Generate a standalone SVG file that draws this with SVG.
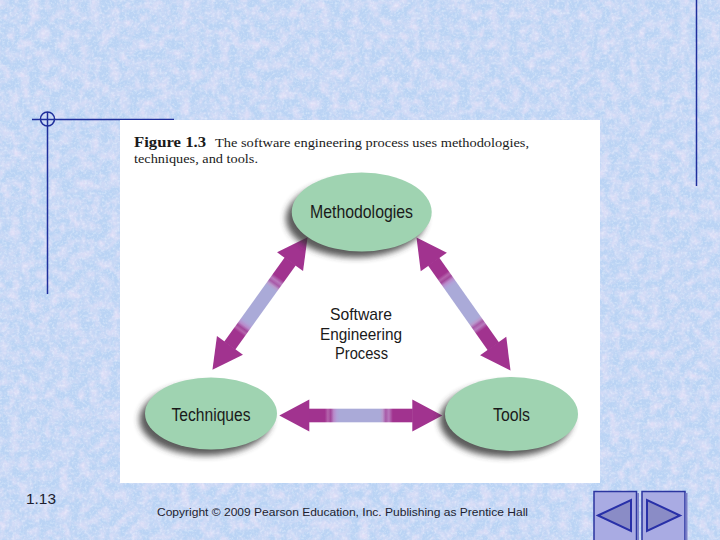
<svg xmlns="http://www.w3.org/2000/svg" width="720" height="540" viewBox="0 0 720 540">
<style>
.node{fill:#9fd3b1}
.lbl{font-family:"Liberation Sans",Arial,sans-serif;fill:#1a1a1a;text-anchor:start}
.cap{font-family:"Liberation Serif","Times New Roman",serif;fill:#1a1a1a}
.rule{stroke:#1f2f9c;stroke-width:1.5;fill:none}
.btn{fill:#a9abe3;stroke:#2b35a0;stroke-width:1.5}
.tri{fill:#8a8cc6;stroke:#2830a8;stroke-width:2;stroke-linejoin:miter}
.foot{font-family:"Liberation Sans",Arial,sans-serif;fill:#1e1e30}
.head{fill:#a1338f}
.shadow{fill:#333333;opacity:0.8}
</style>
<defs>
<filter id="tex" x="0" y="0" width="100%" height="100%">
<feTurbulence type="fractalNoise" baseFrequency="0.1" numOctaves="3" seed="4"/>
<feColorMatrix type="matrix" values="0 0 0 0 0.88  0 0 0 0 0.78  0 0 0 0 0.94  1.4 0 0 0 -0.5"/>
</filter>
<filter id="tex2" x="0" y="0" width="100%" height="100%">
<feTurbulence type="fractalNoise" baseFrequency="0.4" numOctaves="2" seed="9"/>
<feColorMatrix type="matrix" values="0 0 0 0 0.85  0 0 0 0 0.92  0 0 0 0 1  0 1.2 0 0 -0.55"/>
</filter>
<filter id="sh" x="-30%" y="-30%" width="160%" height="160%">
<feGaussianBlur stdDeviation="3"/>
</filter>
<linearGradient id="shaft" gradientUnits="userSpaceOnUse" x1="-52" y1="0" x2="52" y2="0">
<stop offset="0" stop-color="#a1338f"/>
<stop offset="0.154" stop-color="#a1338f"/>
<stop offset="0.183" stop-color="#b464ac"/>
<stop offset="0.21" stop-color="#a2489a"/>
<stop offset="0.24" stop-color="#b98aca"/>
<stop offset="0.27" stop-color="#b0a2d8"/>
<stop offset="0.298" stop-color="#aaaad8"/>
<stop offset="0.683" stop-color="#aaaad8"/>
<stop offset="0.71" stop-color="#b99acd"/>
<stop offset="0.74" stop-color="#a85aa8"/>
<stop offset="0.77" stop-color="#b87abd"/>
<stop offset="0.808" stop-color="#a1338f"/>
<stop offset="1" stop-color="#a1338f"/>
</linearGradient>
<g id="arrow">
<rect x="-52" y="-6.8" width="104" height="13.6" fill="url(#shaft)"/>
<polygon class="head" points="-81.5,0 -51.5,-16 -51.5,16"/>
<polygon class="head" points="81.5,0 51.5,-16 51.5,16"/>
</g>
</defs>

<!-- background -->
<rect width="720" height="540" fill="#bad3f4"/>
<rect width="720" height="540" filter="url(#tex)"/>
<rect width="720" height="540" filter="url(#tex2)"/>

<!-- slide rules -->
<line class="rule" x1="32" y1="119.5" x2="174" y2="119.5"/>
<line class="rule" x1="47.5" y1="112" x2="47.5" y2="294"/>
<circle class="rule" cx="47.5" cy="119" r="7"/>
<line class="rule" x1="696.5" y1="0" x2="696.5" y2="186"/>

<!-- figure panel -->
<rect x="120" y="120" width="480" height="363" fill="#ffffff"/>
<text class="cap" x="134" y="147" font-size="15" font-weight="bold" textLength="72" lengthAdjust="spacingAndGlyphs">Figure 1.3</text>
<text class="cap" x="215" y="147" font-size="13.5" textLength="314" lengthAdjust="spacingAndGlyphs">The software engineering process uses methodologies,</text>
<text class="cap" x="134" y="163" font-size="13.5" textLength="124" lengthAdjust="spacingAndGlyphs">techniques, and tools.</text>

<!-- connectors -->
<g id="connectors">
<use href="#arrow" transform="translate(360.8,415.5)"/>
<use href="#arrow" transform="translate(260,303.5) rotate(-54.3)"/>
<use href="#arrow" transform="translate(463.5,304) rotate(54.8)"/>
</g>

<!-- nodes -->
<g id="methodologies">
<ellipse class="shadow" cx="356" cy="218.5" rx="70" ry="39" filter="url(#sh)"/>
<ellipse class="node" cx="361.7" cy="212" rx="70" ry="39.5"/>
<text class="lbl" x="310" y="217.5" font-size="18.5" textLength="103" lengthAdjust="spacingAndGlyphs">Methodologies</text>
</g>
<g id="techniques">
<ellipse class="shadow" cx="205.5" cy="419.5" rx="66" ry="36" filter="url(#sh)"/>
<ellipse class="node" cx="211" cy="413.5" rx="66" ry="36"/>
<text class="lbl" x="171.5" y="421" font-size="18" textLength="79" lengthAdjust="spacingAndGlyphs">Techniques</text>
</g>
<g id="tools">
<ellipse class="shadow" cx="506" cy="420" rx="66.5" ry="37" filter="url(#sh)"/>
<ellipse class="node" cx="511.5" cy="414" rx="66.5" ry="37"/>
<text class="lbl" x="493" y="421" font-size="18" textLength="37" lengthAdjust="spacingAndGlyphs">Tools</text>
</g>
<g id="center-label">
<text class="lbl" x="330" y="320" font-size="17" textLength="62" lengthAdjust="spacingAndGlyphs">Software</text>
<text class="lbl" x="320" y="340" font-size="17" textLength="82" lengthAdjust="spacingAndGlyphs">Engineering</text>
<text class="lbl" x="335" y="359" font-size="17" textLength="53" lengthAdjust="spacingAndGlyphs">Process</text>
</g>

<!-- footer -->
<text class="foot" x="26" y="504" font-size="14" textLength="30" lengthAdjust="spacingAndGlyphs">1.13</text>
<text class="foot" x="157" y="516" font-size="11" textLength="371" lengthAdjust="spacingAndGlyphs">Copyright © 2009 Pearson Education, Inc. Publishing as Prentice Hall</text>

<!-- navigation buttons -->
<g id="btn-prev">
<rect class="btn" x="594" y="491.5" width="42.5" height="52"/>
<line x1="638" y1="493" x2="638" y2="540" stroke="#7c80c8" stroke-width="2"/>
<polygon class="tri" points="598,515.5 631,500 631,531"/>
</g>
<g id="btn-next">
<rect class="btn" x="642" y="491.5" width="43" height="52"/>
<line x1="686.5" y1="493" x2="686.5" y2="540" stroke="#7c80c8" stroke-width="2"/>
<polygon class="tri" points="647,500 647,531 680,515.5"/>
</g>
</svg>
